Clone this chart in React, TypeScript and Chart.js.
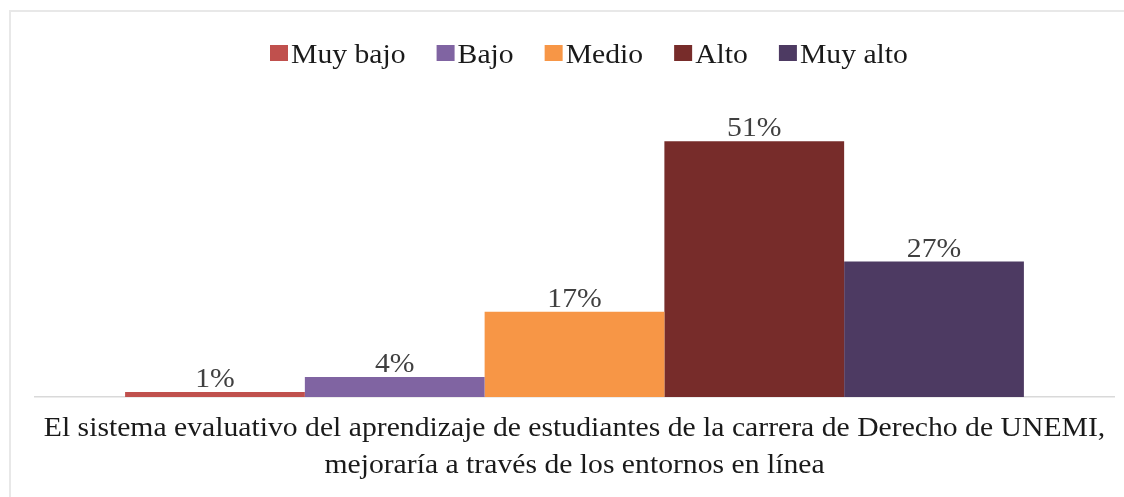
import React, { useEffect, useRef } from "react";
import { Chart, registerables } from "chart.js";

Chart.register(...registerables);

const categories = ["Respuesta"];
const seriesNames = ["Muy bajo", "Bajo", "Medio", "Alto", "Muy alto"];
const seriesValues = [1, 4, 17, 51, 27];
const seriesColors = ["#C0504D", "#8064A2", "#F79646", "#772C2A", "#4D3A62"];
const axisTitleLines = [
  "El sistema evaluativo del aprendizaje de estudiantes de la carrera de Derecho de UNEMI,",
  "mejoraría a través de los entornos en línea",
];

const FONT = '"Liberation Serif", "Times New Roman", serif';
const FS = 28;
const SX = 1.06;

function drawText(ctx: any, text: string, x: number, y: number, align: string) {
  ctx.save();
  ctx.translate(x, y);
  ctx.scale(SX, 1);
  ctx.textAlign = align;
  ctx.fillText(text, 0, 0);
  ctx.restore();
}

const framePlugin = {
  id: "frame",
  beforeDraw(chart: any) {
    const ctx = chart.ctx;
    ctx.save();
    ctx.fillStyle = "#ffffff";
    ctx.fillRect(0, 0, chart.width, chart.height);
    ctx.strokeStyle = "#e8e8e8";
    ctx.lineWidth = 2;
    ctx.beginPath();
    ctx.moveTo(10, chart.height);
    ctx.lineTo(10, 11);
    ctx.lineTo(chart.width, 11);
    ctx.stroke();
    ctx.restore();
  },
};

const legendPlugin = {
  id: "customLegend",
  afterDraw(chart: any) {
    const ctx = chart.ctx;
    ctx.save();
    ctx.font = `${FS}px ${FONT}`;
    ctx.textBaseline = "alphabetic";
    let x = 270;
    const boxW = 18;
    const boxH = 16;
    const boxY = 45;
    const baseY = 63;
    chart.data.datasets.forEach((ds: any) => {
      ctx.fillStyle = ds.backgroundColor;
      ctx.fillRect(x, boxY, boxW, boxH);
      x += boxW + 3;
      ctx.fillStyle = "#1a1a1a";
      drawText(ctx, ds.label, x, baseY, "left");
      x += ctx.measureText(ds.label).width * SX + 31;
    });
    ctx.restore();
  },
};

const labelsPlugin = {
  id: "barLabels",
  afterDatasetsDraw(chart: any) {
    const ctx = chart.ctx;
    ctx.save();
    ctx.font = `${FS}px ${FONT}`;
    ctx.fillStyle = "#404040";
    ctx.textBaseline = "alphabetic";
    chart.data.datasets.forEach((ds: any, i: number) => {
      const meta = chart.getDatasetMeta(i);
      meta.data.forEach((bar: any, j: number) => {
        drawText(ctx, `${ds.data[j]}%`, bar.x, bar.y - 5, "center");
      });
    });
    ctx.restore();
  },
};

const titlePlugin = {
  id: "axisTitle",
  afterDraw(chart: any) {
    const ctx = chart.ctx;
    const area = chart.chartArea;
    ctx.save();
    ctx.font = `${FS}px ${FONT}`;
    ctx.fillStyle = "#1a1a1a";
    ctx.textBaseline = "alphabetic";
    const cx = (area.left + area.right) / 2;
    drawText(ctx, axisTitleLines[0], cx, 436, "center");
    drawText(ctx, axisTitleLines[1], cx, 473, "center");
    ctx.restore();
  },
};

export default function App() {
  const ref = useRef<HTMLCanvasElement>(null);
  useEffect(() => {
    if (!ref.current) return;
    const chart = new Chart(ref.current, {
      type: "bar",
      data: {
        labels: categories,
        datasets: seriesNames.map((name, i) => ({
          label: name,
          data: [seriesValues[i]],
          backgroundColor: seriesColors[i],
          borderWidth: 0,
          categoryPercentage: 0.833,
          barPercentage: 1.0,
        })),
      },
      options: {
        animation: false,
        responsive: false,
        maintainAspectRatio: false,
        layout: { padding: { left: 35, right: 10, top: 96, bottom: 92 } },
        plugins: {
          legend: { display: false },
          tooltip: { enabled: false },
          title: { display: false },
        },
        scales: {
          x: {
            display: true,
            grid: { display: false },
            ticks: { display: false },
            border: { display: true, color: "#d9d9d9", width: 1.5 },
          },
          y: {
            display: false,
            min: 0,
            max: 60,
          },
        },
      },
      plugins: [framePlugin, labelsPlugin, legendPlugin, titlePlugin],
    });
    return () => chart.destroy();
  }, []);
  return (
    <div style={{ position: "absolute", left: 0, top: 0, width: 1124, height: 497 }}>
      <canvas ref={ref} width={1124} height={497} style={{ display: "block" }} />
    </div>
  );
}
